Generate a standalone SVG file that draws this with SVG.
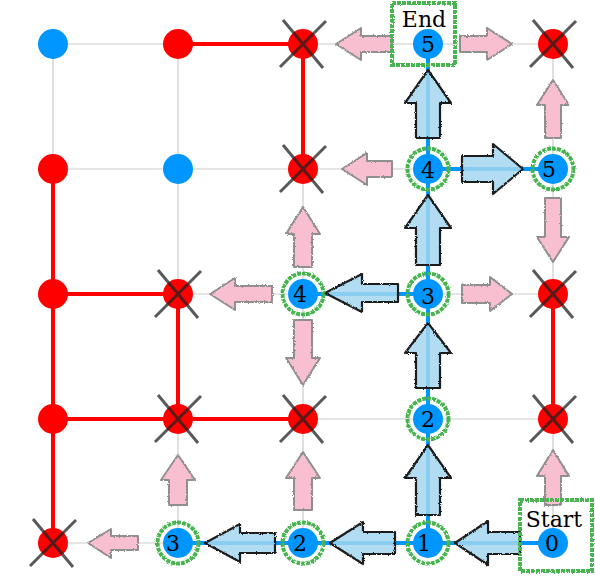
<svg xmlns="http://www.w3.org/2000/svg" width="595" height="579" viewBox="0 0 595 579">
<defs>
<filter id="rough" x="-10%" y="-10%" width="120%" height="120%">
<feTurbulence type="fractalNoise" baseFrequency="0.9" numOctaves="2" seed="3" result="n"/>
<feDisplacementMap in="SourceGraphic" in2="n" scale="2.5" xChannelSelector="R" yChannelSelector="G"/>
</filter>
</defs>
<style>
.grid{stroke:#cccccc;stroke-width:1.2;fill:none}
.red{stroke:#ff0000;stroke-width:4;fill:none}
.blue{stroke:#0096ff;stroke-width:4;fill:none}
.pink{fill:#f8bfd0;stroke:#8f8f8f;stroke-width:2;stroke-linejoin:round;filter:url(#rough)}
.barr{fill:#a3d6ef;fill-opacity:0.85;stroke:#1e1e1e;stroke-width:2.2;stroke-linejoin:round;filter:url(#rough)}
.rn{fill:#ff0000}
.bn{fill:#0096ff}
.x{stroke:#222;stroke-opacity:0.75;stroke-width:3}
.ring{fill:none;stroke:#46b450;stroke-width:4;stroke-dasharray:4 1;filter:url(#rough)}
.box{fill:none;stroke:#46b450;stroke-width:4;stroke-dasharray:4 1;filter:url(#rough)}
.lbl{font-family:"DejaVu Serif","Liberation Serif",serif;font-size:22px;fill:#000;text-anchor:middle}
</style>
<rect width="595" height="579" fill="#ffffff"/>
<g id="grid">
<path class="grid" d="M53 44H553M53 169H553M53 294H553M53 419H553M53 543H553M53 44V543M178 44V543M303 44V543M428 44V543M553 44V543"/>
</g>
<g id="connectors">
<path class="red" d="M178 44H303V169M53 169V543M53 294H178V419M53 419H303M553 294V419"/>
<path class="blue" d="M553 543H178M428 543V44M428 294H303M428 169H553"/>
<g id="pink-arrows">
<polygon class="pink" points="392,36 361,36 361,28 336,44 361,60 361,52 392,52"/>
<polygon class="pink" points="460,36 487,36 487,28 512,44 487,60 487,52 460,52"/>
<polygon class="pink" points="545,138 545,105 537,105 553,80 569,105 561,105 561,138"/>
<polygon class="pink" points="545,198 545,237 537,237 553,262 569,237 561,237 561,198"/>
<polygon class="pink" points="392,161 367,161 367,153 342,169 367,185 367,177 392,177"/>
<polygon class="pink" points="294,267 294,234 286,234 303,207 320,234 312,234 312,267"/>
<polygon class="pink" points="272,286 235,286 235,278 210,294 235,310 235,302 272,302"/>
<polygon class="pink" points="294,320 294,358 286,358 303,385 320,358 312,358 312,320"/>
<polygon class="pink" points="462,285 490,285 490,277 512,294 490,311 490,303 462,303"/>
<polygon class="pink" points="545,505 545,476 537,476 553,450 569,476 561,476 561,505"/>
<polygon class="pink" points="294,510 294,478 286,478 303,452 320,478 312,478 312,510"/>
<polygon class="pink" points="169,505 169,480 161,480 178,455 195,480 187,480 187,505"/>
<polygon class="pink" points="138,536 111,536 111,529 88,543 111,558 111,550 138,550"/>
</g>
<g id="blue-arrows">
<polygon class="barr" points="520,532 488,532 488,521 455,543 488,565 488,554 520,554"/>
<polygon class="barr" points="395,532 363,532 363,522 330,543 363,564 363,554 395,554"/>
<polygon class="barr" points="275,533 240,533 240,524 205,543 240,562 240,553 275,553"/>
<polygon class="barr" points="416,515 416,478 405,478 428,445 451,478 440,478 440,515"/>
<polygon class="barr" points="416,388 416,353 405,353 428,323 451,353 440,353 440,388"/>
<polygon class="barr" points="416,265 416,228 405,228 428,195 451,228 440,228 440,265"/>
<polygon class="barr" points="416,138 416,103 405,103 428,70 451,103 440,103 440,138"/>
<polygon class="barr" points="398,284 362,284 362,274 325,293 362,312 362,302 398,302"/>
<polygon class="barr" points="462,156 493,156 493,144 523,169 493,194 493,182 462,182"/>
</g>
</g>
<g id="n00"><circle class="bn" cx="53" cy="44" r="15"/></g>
<g id="n10"><circle class="rn" cx="178" cy="44" r="15"/></g>
<g id="n20"><circle class="rn" cx="303" cy="44" r="15"/><path class="x" d="M280 67L326 21M283 20L323 68"/></g>
<g id="n30"><rect class="box" x="392" y="3" width="63" height="62"/><circle class="bn" cx="428" cy="44" r="15"/><text class="lbl" x="424" y="27">End</text><text class="lbl" x="428" y="52">5</text></g>
<g id="n40"><circle class="rn" cx="553" cy="44" r="15"/><path class="x" d="M530 67L576 21M533 20L573 68"/></g>
<g id="n01"><circle class="rn" cx="53" cy="169" r="15"/></g>
<g id="n11"><circle class="bn" cx="178" cy="169" r="15"/></g>
<g id="n21"><circle class="rn" cx="303" cy="169" r="15"/><path class="x" d="M280 192L326 146M283 145L323 193"/></g>
<g id="n31"><circle class="ring" cx="428" cy="169" r="20.5"/><circle class="bn" cx="428" cy="169" r="15"/><text class="lbl" x="428" y="178">4</text></g>
<g id="n41"><circle class="ring" cx="553" cy="169" r="20.5"/><circle class="bn" cx="553" cy="169" r="15"/><text class="lbl" x="549" y="177">5</text></g>
<g id="n02"><circle class="rn" cx="53" cy="294" r="15"/></g>
<g id="n12"><circle class="rn" cx="178" cy="294" r="15"/><path class="x" d="M155 317L201 271M158 270L198 318"/></g>
<g id="n22"><circle class="ring" cx="303" cy="294" r="20.5"/><circle class="bn" cx="303" cy="294" r="15"/><text class="lbl" x="300" y="302">4</text></g>
<g id="n32"><circle class="ring" cx="428" cy="294" r="20.5"/><circle class="bn" cx="428" cy="294" r="15"/><text class="lbl" x="428" y="304">3</text></g>
<g id="n42"><circle class="rn" cx="553" cy="294" r="15"/><path class="x" d="M530 317L576 271M533 270L573 318"/></g>
<g id="n03"><circle class="rn" cx="53" cy="419" r="15"/></g>
<g id="n13"><circle class="rn" cx="178" cy="419" r="15"/><path class="x" d="M155 442L201 396M158 395L198 443"/></g>
<g id="n23"><circle class="rn" cx="303" cy="419" r="15"/><path class="x" d="M280 442L326 396M283 395L323 443"/></g>
<g id="n33"><circle class="ring" cx="428" cy="419" r="20.5"/><circle class="bn" cx="428" cy="419" r="15"/><text class="lbl" x="428" y="427">2</text></g>
<g id="n43"><circle class="rn" cx="553" cy="419" r="15"/><path class="x" d="M530 442L576 396M533 395L573 443"/></g>
<g id="n04"><circle class="rn" cx="53" cy="543" r="15"/><path class="x" d="M30 566L76 520M33 519L73 567"/></g>
<g id="n14"><circle class="ring" cx="178" cy="543" r="20.5"/><circle class="bn" cx="178" cy="543" r="15"/><text class="lbl" x="173" y="551">3</text></g>
<g id="n24"><circle class="ring" cx="303" cy="543" r="20.5"/><circle class="bn" cx="303" cy="543" r="15"/><text class="lbl" x="300" y="551">2</text></g>
<g id="n34"><circle class="ring" cx="428" cy="543" r="20.5"/><circle class="bn" cx="428" cy="543" r="15"/><text class="lbl" x="424" y="551">1</text></g>
<g id="n44"><rect class="box" x="520" y="500" width="72" height="71"/><circle class="bn" cx="553" cy="543" r="15"/><text class="lbl" x="554" y="527">Start</text><text class="lbl" x="552" y="551">0</text></g>
</svg>
